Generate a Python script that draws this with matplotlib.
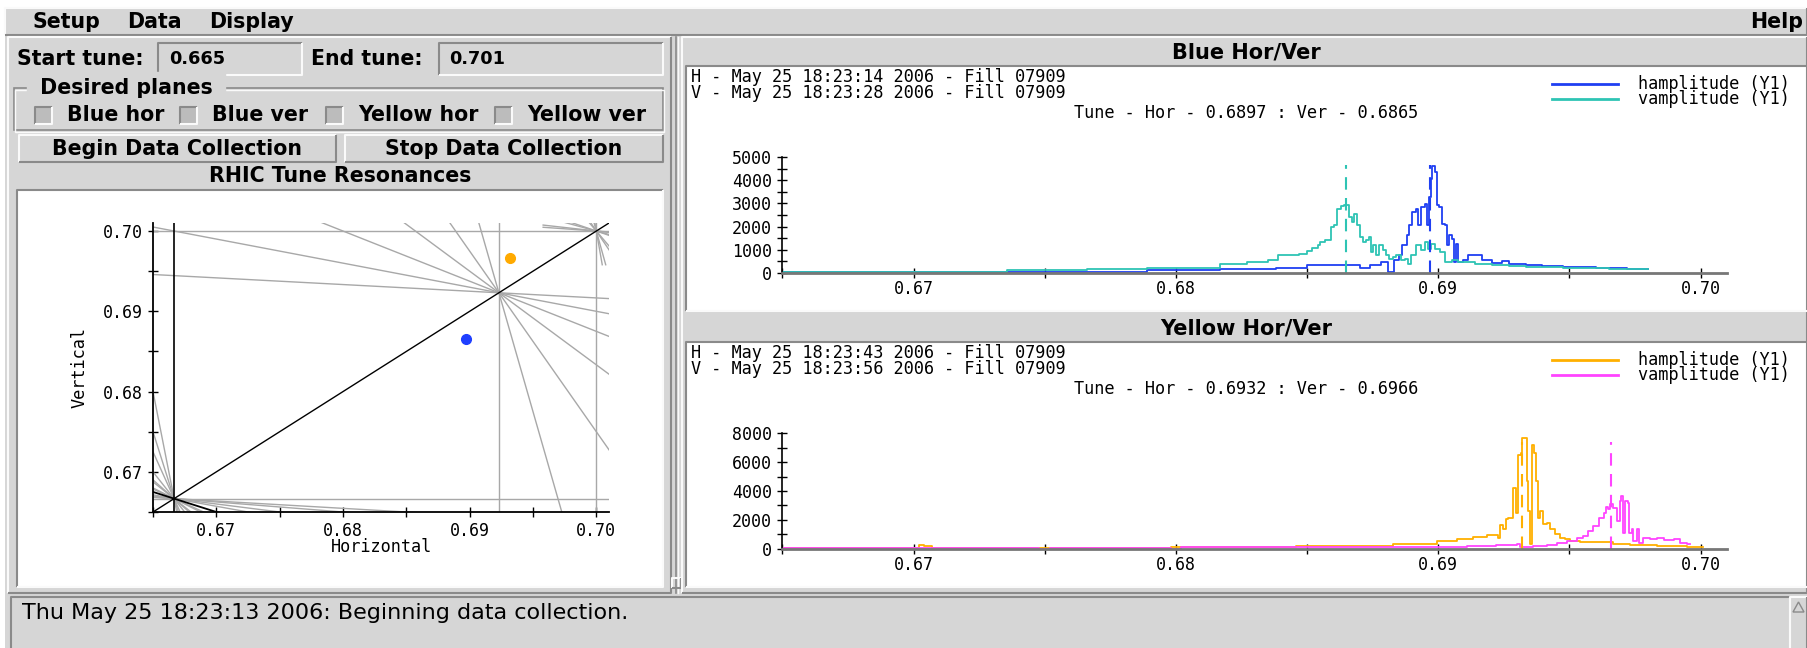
import numpy as np
import matplotlib.pyplot as plt
from matplotlib.patches import Rectangle, Polygon
from matplotlib.ticker import MultipleLocator, FormatStrFormatter

# ---- tune spectra (tune, amplitude), drawn as steps ----
bh_tune = [0.6650, 0.6668, 0.6672, 0.6745, 0.6750, 0.6789, 0.6817, 0.6838, 0.6850, 0.6863,
           0.6870, 0.6874, 0.6878, 0.6881, 0.6883, 0.6885, 0.6886, 0.6888, 0.6889, 0.6890,
           0.68917, 0.68923, 0.68936, 0.68949, 0.68959, 0.68964, 0.68972, 0.68977, 0.68987, 0.68994,
           0.69003, 0.69013, 0.69026, 0.69032, 0.69041, 0.69051, 0.69060, 0.69068, 0.69077, 0.69096,
           0.69115, 0.69141, 0.69167, 0.69205, 0.69244, 0.69269, 0.69333, 0.69397, 0.69474, 0.6960,
           0.6972, 0.6980]
bh_amp = [50, 20, 50, 20, 50, 100, 170, 215, 320, 345,
          200, 320, 460, 30, 530, 750, 1180, 1620, 2050, 2630,
          2770, 2050, 2840, 2990, 2050, 3280, 4070, 4620, 4360, 2920,
          2840, 2120, 2050, 1180, 1620, 1470, 460, 1260, 460, 530,
          750, 750, 530, 430, 490, 390, 320, 290, 260, 200,
          150, 150]

bv_tune = [0.6650, 0.67355, 0.6766, 0.67889, 0.68168, 0.6827, 0.6835, 0.6839, 0.6847, 0.6850,
           0.6852, 0.6854, 0.6855, 0.6857, 0.6859, 0.68603, 0.68615, 0.68628, 0.68641, 0.68660,
           0.68673, 0.68680, 0.68689, 0.68702, 0.68712, 0.68725, 0.68737, 0.68743, 0.68750, 0.68763,
           0.68776, 0.68789, 0.68802, 0.68814, 0.68827, 0.68840, 0.68859, 0.68872, 0.68885, 0.68898,
           0.68917, 0.68936, 0.68949, 0.68962, 0.68974, 0.68987, 0.69006, 0.69026, 0.69051, 0.69077,
           0.69141, 0.69205, 0.69269, 0.69333, 0.69474, 0.6965, 0.6980]
bv_amp = [45, 100, 145, 190, 390, 460, 530, 750, 820, 920,
          1050, 1180, 1330, 1400, 1980, 2050, 2770, 2910, 2940, 2410,
          2190, 2550, 2050, 1540, 1330, 1400, 1540, 900, 1180, 750,
          1180, 970, 750, 600, 680, 750, 530, 600, 390, 750,
          1180, 970, 1330, 1040, 1260, 1040, 900, 460, 530, 460,
          390, 320, 290, 245, 215, 180, 180]

yh_tune = [0.6650, 0.6702, 0.6704, 0.6707, 0.6750, 0.6798, 0.68459, 0.68701, 0.68828, 0.68994,
           0.6907, 0.69133, 0.69184, 0.69229, 0.69235, 0.69248, 0.69258, 0.69267, 0.69286, 0.69296,
           0.69305, 0.69314, 0.69318, 0.69337, 0.69343, 0.69350, 0.69356, 0.69365, 0.69373, 0.69379,
           0.69388, 0.69401, 0.69413, 0.69426, 0.69445, 0.69464, 0.69483, 0.69502, 0.6954, 0.69668,
           0.69731, 0.69833, 0.69948, 0.7001]
yh_amp = [50, 250, 150, 50, 60, 100, 150, 200, 300, 530,
          640, 800, 920, 710, 1610, 1330, 2020, 2140, 4210, 2480,
          6510, 6620, 7700, 4670, 2600, 300, 7200, 6620, 4670, 2140,
          2600, 1680, 1790, 1330, 1035, 760, 640, 530, 440, 300,
          250, 160, 115, 115]

yv_tune = [0.6650, 0.6748, 0.6752, 0.6798, 0.6802, 0.69108, 0.69222, 0.69299, 0.69311, 0.69324,
           0.69362, 0.69413, 0.69451, 0.6949, 0.69528, 0.69553, 0.69572, 0.69591, 0.69614, 0.6963,
           0.6964, 0.69649, 0.69655, 0.69668, 0.6968, 0.69691, 0.69696, 0.69706, 0.69712, 0.69725,
           0.69729, 0.69738, 0.69744, 0.69757, 0.69767, 0.69782, 0.69808, 0.69833, 0.69859, 0.69897,
           0.69922, 0.69948, 0.6996]
yv_amp = [40, 0, 40, 0, 70, 160, 250, 345, 115, 115,
          185, 250, 390, 530, 710, 875, 1220, 1560, 2140, 2480,
          2870, 2710, 3060, 2780, 1910, 3290, 3630, 1100, 3290, 3170,
          1100, 1330, 530, 1330, 415, 760, 640, 710, 575, 640,
          415, 300, 300]

# measured tunes (hor, ver) and marker-line heights
blue_tune = (0.6897, 0.6865)
yellow_tune = (0.6932, 0.6966)
blue_mark_h = 4650
yellow_mark_h = 7400

blue_stamp = ["H - May 25 18:23:14 2006 - Fill 07909", "V - May 25 18:23:28 2006 - Fill 07909"]
yellow_stamp = ["H - May 25 18:23:43 2006 - Fill 07909", "V - May 25 18:23:56 2006 - Fill 07909"]

# resonance lines a*Qx + b*Qy = p, grouped by the node they pass through
res_13 = [(1, 12), (3, 10), (5, 8), (7, 6), (9, 4), (11, 2), (13, 0)]
res_3 = [(2, 1), (1, 5), (5, 1), (1, 8), (8, 1), (2, 7), (7, 2), (4, 5), (5, 4),
         (1, 11), (5, 7), (7, 5)]
res_10 = [(1, 9), (3, 7), (7, 3), (9, 1), (3, 17), (7, 13), (13, 7), (17, 3)]

C_BLUE, C_TURQ = '#1f3ff2', '#2ec4b4'
C_ORNG, C_MAG = '#ffb000', '#ff44ff'
GRAY, LIGHT, DARK = '#d6d6d6', '#fafafa', '#8a8a8a'
GUI = 'DejaVu Sans'
MONO = 'DejaVu Sans Mono'
FS_GUI = 14.8
FS_MONO = 12.2

W, H = 1807, 648
fig = plt.figure(figsize=(W / 100, H / 100), dpi=100)
bg = fig.add_axes([0, 0, 1, 1])
bg.set_xlim(0, W); bg.set_ylim(H, 0); bg.axis('off')


def box(x0, y0, x1, y1, face=GRAY, sunken=False, lw=1.5):
    bg.add_patch(Rectangle((x0, y0), x1 - x0, y1 - y0, facecolor=face, edgecolor='none'))
    hi, lo = (DARK, LIGHT) if sunken else (LIGHT, DARK)
    bg.plot([x0, x0, x1], [y1, y0, y0], color=hi, lw=lw, solid_capstyle='butt')
    bg.plot([x0, x1, x1], [y1, y1, y0], color=lo, lw=lw, solid_capstyle='butt')


def label(x, y, s, size=FS_GUI, ha='left', weight='bold', family=GUI, **kw):
    bg.text(x, y, s, fontsize=size, ha=ha, va='center', fontweight=weight, family=family, **kw)


def px_axes(x0, y0, x1, y1):
    return fig.add_axes([x0 / W, 1 - y1 / H, (x1 - x0) / W, (y1 - y0) / H])


# window background and menu bar
bg.add_patch(Rectangle((5, 8), W, H, facecolor=GRAY, edgecolor='none'))
box(5, 8, W, 35)
label(32, 22, 'Setup'); label(127, 22, 'Data'); label(209, 22, 'Display')
label(1803, 22, 'Help', ha='right')

# left control panel
box(8, 37, 671, 593)
label(17, 59, 'Start tune:')
box(158, 43, 302, 75, sunken=True)
label(169, 59, '0.665', size=12.8)
label(311, 59, 'End tune:')
box(439, 43, 663, 75, sunken=True)
label(449, 59, '0.701', size=12.8)

bg.add_patch(Rectangle((14, 88), 649, 42, facecolor='none', edgecolor=DARK, lw=1.2))
bg.add_patch(Rectangle((15.5, 89.5), 649, 42, facecolor='none', edgecolor=LIGHT, lw=1))
label(33, 88, ' Desired planes ', backgroundcolor=GRAY)
for cx, name in [(35, 'Blue hor'), (180, 'Blue ver'), (326, 'Yellow hor'), (495, 'Yellow ver')]:
    box(cx, 107, cx + 17, 124, face='#bcbcbc', sunken=True)
    label(cx + 32, 115, name)

box(19, 135, 336, 162)
label(177, 149, 'Begin Data Collection', ha='center')
box(345, 135, 663, 162)
label(504, 149, 'Stop Data Collection', ha='center')
label(340, 176, 'RHIC Tune Resonances', ha='center')
box(17, 190, 663, 587, face='white', sunken=True)

# sash between the panels
bg.plot([676, 676], [37, 593], color=DARK, lw=1.2)
bg.plot([678, 678], [37, 593], color=LIGHT, lw=1)
box(672, 578, 681, 588)

# right panels
box(682, 37, W, 593)
label(1246, 52, 'Blue Hor/Ver', ha='center', size=15)
box(686, 66, W + 2, 311, face='white', sunken=True)
label(1246, 329, 'Yellow Hor/Ver', ha='center', size=15)
box(686, 342, W + 2, 587, face='white', sunken=True)

# status line
box(11, 597, 1790, H + 2, sunken=True)
label(22, 613, 'Thu May 25 18:23:13 2006: Beginning data collection.', size=16, weight='normal')
box(1790, 597, W, H + 2)
bg.add_patch(Polygon([[1793, 612], [1798.5, 602], [1804, 612]], closed=True,
                     facecolor=GRAY, edgecolor=DARK, lw=1))

# panel captions and legends
for ys, stamps, tune, cols in [(77, blue_stamp, blue_tune, (C_BLUE, C_TURQ)),
                               (353, yellow_stamp, yellow_tune, (C_ORNG, C_MAG))]:
    label(691, ys, stamps[0], size=FS_MONO, weight='normal', family=MONO)
    label(691, ys + 16, stamps[1], size=FS_MONO, weight='normal', family=MONO)
    for k, (c, nm) in enumerate(zip(cols, ['hamplitude (Y1)', 'vamplitude (Y1)'])):
        yy = ys + 7 + 15 * k
        bg.plot([1552, 1618], [yy, yy], color=c, lw=2)
        label(1638, yy, nm, size=FS_MONO, weight='normal', family=MONO)
    label(1246, ys + 36, f'Tune - Hor - {tune[0]:.4f} : Ver - {tune[1]:.4f}',
          ha='center', size=FS_MONO, weight='normal', family=MONO)


def style_axes(ax):
    ax.set_facecolor('none')
    ax.spines[['top', 'right']].set_visible(False)
    ax.tick_params(which='both', direction='inout', length=7, width=1, labelsize=12, pad=4)
    for t in ax.get_xticklabels() + ax.get_yticklabels():
        t.set_family(MONO)


def spectrum(y0, y1, ymax, ystep, hor, ver, tune, mark_h, cols):
    ax = px_axes(782.4, y0, 1726.8, y1)
    ax.plot(hor[0], hor[1], drawstyle='steps-post', color=cols[0], lw=1.3)
    ax.plot(ver[0], ver[1], drawstyle='steps-post', color=cols[1], lw=1.3)
    ax.plot([tune[0]] * 2, [0, mark_h], color=cols[0], lw=1.5, ls=(0, (6, 4)))
    ax.plot([tune[1]] * 2, [0, mark_h], color=cols[1], lw=1.5, ls=(0, (6, 4)))
    ax.set_xlim(0.665, 0.701); ax.set_ylim(0, ymax)
    ax.xaxis.set_major_locator(MultipleLocator(0.01))
    ax.xaxis.set_minor_locator(MultipleLocator(0.005))
    ax.xaxis.set_major_formatter(FormatStrFormatter('%.2f'))
    ax.yaxis.set_major_locator(MultipleLocator(ystep))
    ax.yaxis.set_minor_locator(MultipleLocator(ystep / 2))
    ax.spines['bottom'].set_color('#777777'); ax.spines['bottom'].set_linewidth(2)
    ax.spines['left'].set_linewidth(1.2)
    style_axes(ax)
    ax.tick_params(axis='x', pad=2)
    return ax


spectrum(157.3, 272.7, 5000, 1000, (bh_tune, bh_amp), (bv_tune, bv_amp),
         blue_tune, blue_mark_h, (C_BLUE, C_TURQ))
spectrum(433.3, 548.5, 8000, 2000, (yh_tune, yh_amp), (yv_tune, yv_amp),
         yellow_tune, yellow_mark_h, (C_ORNG, C_MAG))

# tune diagram
rx = px_axes(153, 223, 609, 512)
lo, hi = 0.665, 0.701
far = np.array([0.60, 0.80])


def res_line(a, b, p, color='#a8a8a8', lw=1.0, node=None, half=None):
    if b == 0:
        rx.plot([p / a] * 2, far, color=color, lw=lw)
        return
    if node is None:
        x = far
    else:
        dx = min(half, half * abs(b) / abs(a))
        x = np.array([node - dx, node + dx])
    rx.plot(x, (p - a * x) / b, color=color, lw=lw)


for a, b in res_13:
    res_line(a, b, 9)
for a, b in res_3:
    res_line(a, b, round((a + b) * 2 / 3))
for a, b in res_10:
    res_line(a, b, round((a + b) * 0.7), node=0.7, half=0.0042)
res_line(10, 0, 7)
res_line(0, 10, 7)
res_line(0, 3, 2)
res_line(3, 0, 2, color='black', lw=1.2)
res_line(1, 2, 2, color='black', lw=1.3)
res_line(1, -1, 0, color='black', lw=1.0)

rx.plot(blue_tune[0], blue_tune[1], 'o', color='#1f3fff', ms=7, zorder=5)
rx.plot(yellow_tune[0], yellow_tune[1], 'o', color='#ffaa00', ms=7, zorder=5)
rx.set_xlim(lo, hi); rx.set_ylim(lo, hi)
for axis in (rx.xaxis, rx.yaxis):
    axis.set_major_locator(MultipleLocator(0.01))
    axis.set_minor_locator(MultipleLocator(0.005))
    axis.set_major_formatter(FormatStrFormatter('%.2f'))
rx.spines[['left', 'bottom']].set_linewidth(1.3)
style_axes(rx)
rx.set_xlabel('Horizontal', family=MONO, fontsize=FS_MONO, labelpad=-2)
rx.set_ylabel('Vertical', family=MONO, fontsize=FS_MONO, labelpad=10)

fig.savefig('out.png', dpi=100)
